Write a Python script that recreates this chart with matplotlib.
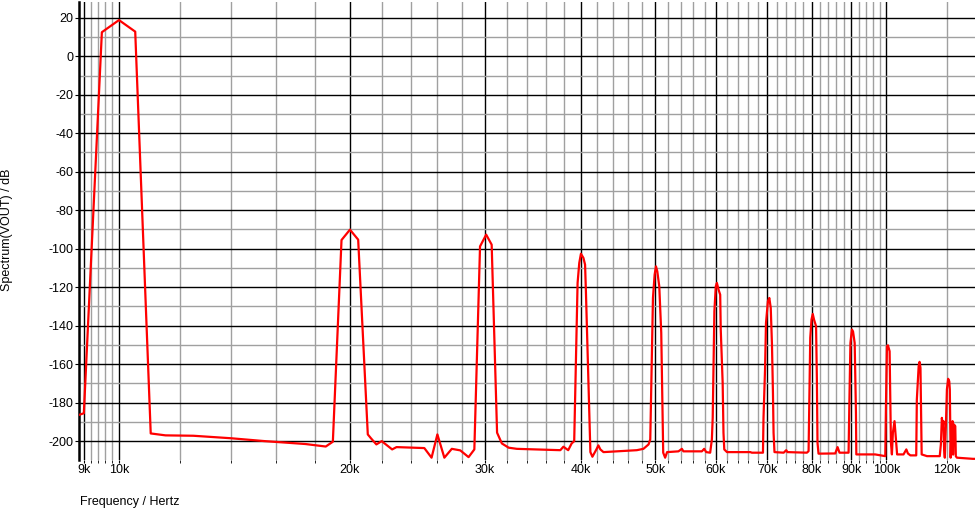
import matplotlib
matplotlib.use('Agg')
import matplotlib.pyplot as plt
from matplotlib.ticker import FixedLocator, FuncFormatter

# trace vertices (frequency in kHz, level in dB)
freq_khz = [8.88, 9.0, 9.5, 10.0, 10.5, 11.0, 11.5, 12.5, 14.0, 15.5, 17.5, 18.6, 19.0,
            19.5, 20.0, 20.5, 21.1, 21.3, 21.65, 22.0, 22.7, 23.0, 25.0, 25.55, 26.0, 26.55,
            27.15, 27.85, 28.55, 29.05, 29.55, 30.1, 30.6, 31.1, 31.55, 32.2, 33.0, 35.0,
            37.6, 37.95, 38.5, 38.9, 39.2, 39.6, 39.8, 40.0, 40.3, 40.5, 40.6, 41.15, 41.4,
            41.9, 42.15, 42.4, 42.8, 47.3, 48.25, 49.0, 49.25, 49.65, 49.9, 50.1, 50.3, 50.6,
            50.9, 51.2, 51.5, 51.8, 53.6, 54.15, 54.4, 57.5, 57.9, 58.25, 58.95, 59.25, 59.4,
            59.55, 59.7, 59.95, 60.15, 60.45, 60.75, 60.85, 61.2, 61.35, 61.5, 62.0, 66.5,
            66.8, 69.07, 69.18, 69.5, 69.7, 70.1, 70.4, 70.7, 70.96, 71.17, 71.3, 71.5, 73.5,
            74.06, 74.35, 78.8, 79.2, 79.37, 79.6, 79.9, 80.2, 80.5, 81.0, 81.2, 81.35, 81.6,
            85.8, 86.4, 86.9, 89.3, 89.5, 89.8, 90.2, 90.5, 90.95, 91.3, 91.4, 96.7, 99.7,
            99.9, 100.2, 100.5, 101.0, 101.4, 101.7, 102.0, 102.5, 103.0, 103.3, 105.3, 106.2,
            106.7, 107.5, 109.4, 109.6, 110.2, 110.5, 110.8, 111.2, 113.0, 117.4, 117.8,
            118.15, 118.5, 118.7, 118.95, 119.2, 119.6, 119.95, 120.4, 120.8, 121.0, 121.3,
            121.6, 122.0, 122.2, 122.5, 123.0, 123.2, 123.6, 129.7, 131.0]
level_db = [-186.3, -185.5, 12.5, 18.8, 12.8, -196.0, -197.0, -197.2, -198.5, -200.0, -201.5, -202.8, -200.3,
            -95.5, -90.1, -95.3, -196.5, -198.5, -201.7, -200.0, -204.3, -203.1, -203.6, -208.6, -196.5, -208.6,
            -204.0, -204.8, -208.3, -204.3, -98.8, -92.7, -97.9, -195.6, -201.2, -203.4, -204.0, -204.3,
            -204.7, -202.9, -204.7, -201.2, -200.0, -117.8, -107.4, -102.6, -104.8, -108.3, -122.0, -205.7, -208.1,
            -204.3, -202.2, -204.3, -205.7, -204.7, -204.0, -201.7, -199.1, -125.6, -113.5, -109.2, -111.8, -119.6,
            -143.7, -206.0, -208.6, -205.7, -205.3, -204.0, -205.3, -205.3, -204.0, -205.7, -206.0, -199.1, -187.9,
            -160.2, -132.5, -119.6, -117.8, -121.3, -123.9, -142.0, -169.7, -195.6, -204.3, -205.7, -205.7,
            -206.0, -206.0, -187.9, -162.8, -138.6, -127.3, -125.6, -130.8, -149.8, -174.9, -195.6, -205.7, -206.0,
            -204.7, -205.7, -206.0, -205.2, -180.0, -146.3, -136.8, -133.9, -136.8, -140.3, -168.0, -200.8, -206.5,
            -206.4, -203.1, -206.0, -206.0, -181.5, -149.0, -142.0, -143.0, -149.0, -185.3, -206.9, -206.9, -207.8,
            -181.8, -150.7, -150.2, -153.3, -200.8, -206.9, -195.6, -189.6, -200.8, -206.9, -206.9, -204.3,
            -206.4, -207.4, -207.4, -178.4, -161.1, -158.8, -161.9, -206.9, -207.8, -207.8, -201.7,
            -187.9, -192.2, -189.6, -204.3, -208.6, -191.3, -173.1, -167.6, -168.9, -173.1, -208.6,
            -193.9, -189.6, -207.0, -191.3, -192.2, -207.8, -208.6, -209.2, -209.2]

x_major = [9, 10, 20, 30, 40, 50, 60, 70, 80, 90, 100]
x_minor = [9.2, 9.4, 9.6, 9.8] + [d + s for d in range(10, 100, 10) for s in (2, 4, 6, 8)] + [120]
y_major = list(range(-200, 21, 20))
y_minor = list(range(-190, 21, 20))

plt.rcParams['font.family'] = ['Liberation Sans', 'DejaVu Sans']
plt.rcParams['axes.unicode_minus'] = False

fig = plt.figure(figsize=(9.75, 5.09), dpi=100)
ax = fig.add_axes([79 / 975, 1 - 460 / 509, 1 - 79 / 975, 458 / 509])

ax.plot([f * 1000 for f in freq_khz], level_db, color='#ff0000', lw=1.6, zorder=3)

ax.set_xscale('log')
ax.set_xlim(8870, 130500)
ax.set_ylim(-209.8, 28.2)

ax.xaxis.set_major_locator(FixedLocator([v * 1000 for v in x_major]))
ax.xaxis.set_minor_locator(FixedLocator([v * 1000 for v in x_minor]))
ax.xaxis.set_major_formatter(FuncFormatter(lambda v, p: '%dk' % round(v / 1000)))
ax.xaxis.set_minor_formatter(FuncFormatter(lambda v, p: '120k' if abs(v - 120000) < 1 else ''))
ax.yaxis.set_major_locator(FixedLocator(y_major))
ax.yaxis.set_minor_locator(FixedLocator(y_minor))

ax.grid(which='major', color='black', lw=1.0)
ax.grid(which='minor', color='#a0a0a0', lw=1.0)
ax.set_axisbelow(True)

for s in ['top', 'right', 'bottom']:
    ax.spines[s].set_visible(False)
ax.spines['left'].set_linewidth(1.8)

ax.tick_params(axis='x', which='both', length=2, pad=1, labelsize=9, colors='black')
ax.tick_params(axis='y', which='major', length=3, pad=1, labelsize=9)
ax.tick_params(axis='y', which='minor', length=0)

fig.text(80 / 975, 1 - 501.5 / 509, 'Frequency / Hertz', ha='left', va='center', fontsize=9)
fig.text(7.5 / 975, 1 - 230 / 509, 'Spectrum(VOUT) / dB', ha='center', va='center', rotation=90, fontsize=9)

plt.savefig('out.png', dpi=100)
